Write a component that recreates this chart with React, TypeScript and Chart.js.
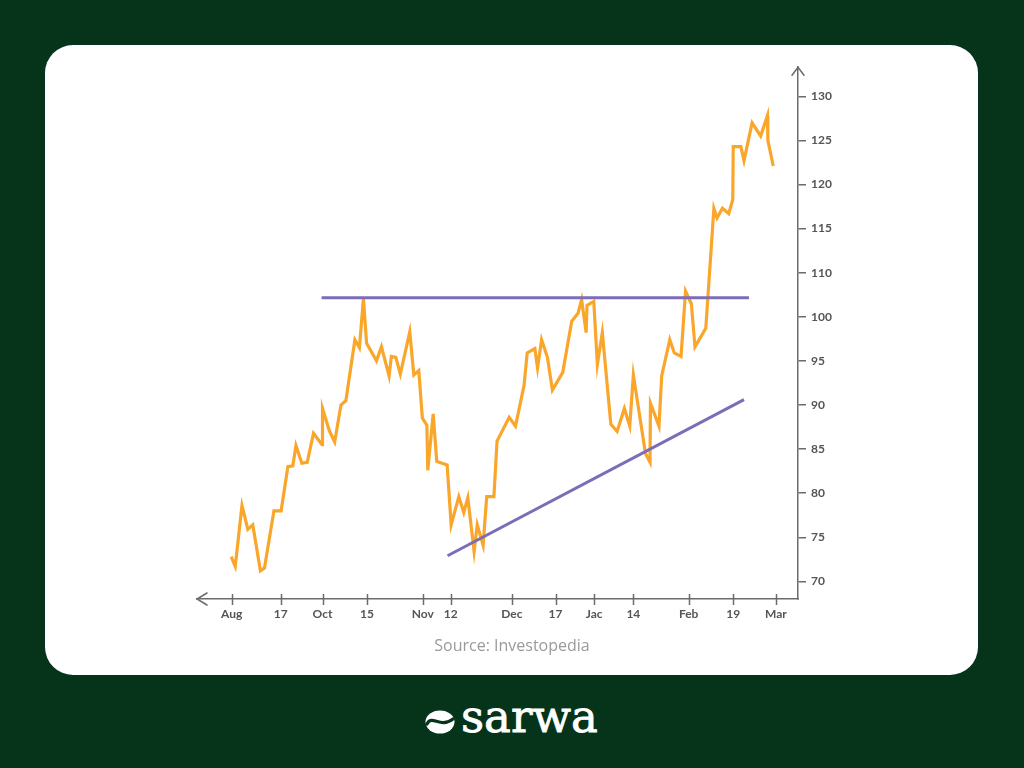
import React, { useEffect, useRef } from "react";
import { Chart, registerables } from "chart.js";

Chart.register(...registerables);

// ---- Data ----
// x: session index along the time axis; tick positions for the date labels
const xTickValues = [0, 10.9, 20.2, 30.1, 42.5, 48.7, 62.3, 72.0, 80.6, 89.3, 101.6, 111.5, 121.0];
const xTickLabels = ["Aug", "17", "Oct", "15", "Nov", "12", "Dec", "17", "Jac", "14", "Feb", "19", "Mar"];

// y tick labels as printed on the chart (note: 105 is not printed, 110 follows 100)
const yTickLabels = [70, 75, 80, 85, 90, 95, 100, 110, 115, 120, 125, 130];

// price line (values read against the printed y labels)
const priceX = [
  -0.1, 0.8, 2.3, 3.6, 4.7, 6.4, 7.3, 9.4, 11.0, 12.5, 13.6, 14.3, 15.6, 16.8, 18.2, 20.1, 20.2, 21.7, 22.9, 24.3,
  25.4, 27.4, 28.4, 29.3, 30.0, 32.2, 33.3, 35.0, 35.5, 36.5, 37.5, 39.6, 40.5, 41.6, 42.4, 43.4, 43.6, 44.8, 45.6,
  47.9, 48.8, 50.5, 51.6, 52.5, 53.9, 54.6, 55.9, 56.7, 58.3, 59.0, 61.7, 63.1, 65.0, 65.7, 67.4, 68.0, 68.9, 70.2,
  71.3, 73.6, 75.6, 77.0, 77.8, 78.8, 79.0, 80.5, 81.3, 82.4, 84.3, 85.7, 87.3, 88.5, 89.3, 92.0, 93.0, 93.1, 95.0,
  95.6, 97.4, 98.4, 99.9, 100.9, 102.2, 103.0, 105.4, 107.2, 107.9, 109.1, 110.5, 111.4, 111.5, 113.2, 113.9, 115.7,
  117.6, 119.1, 119.2, 120.4,
];
const priceY = [
  72.8, 71.7, 78.6, 75.9, 76.4, 71.2, 71.5, 78.0, 78.0, 83.0, 83.1, 85.4, 83.4, 83.5, 86.8, 85.5, 89.6, 87.1, 85.8, 90.0,
  90.5, 97.4, 96.5, 104.1, 97.0, 95.0, 96.6, 93.3, 95.5, 95.4, 93.5, 98.3, 93.4, 93.9, 88.5, 87.7, 82.6, 89.0, 83.6,
  83.2, 76.4, 79.6, 77.8, 79.5, 73.4, 76.4, 74.1, 79.6, 79.6, 85.9, 88.6, 87.6, 92.2, 95.9, 96.4, 94.2, 97.4, 95.4,
  91.7, 93.7, 99.5, 100.8, 103.9, 98.2, 102.6, 103.5, 94.6, 98.2, 87.8, 87.0, 89.6, 87.6, 93.4, 84.5, 83.5, 90.2, 87.6,
  93.3, 97.4, 95.9, 95.5, 105.8, 102.9, 96.6, 98.7, 117.3, 116.2, 117.3, 116.7, 118.3, 124.3, 124.3, 122.7, 127.0,
  125.5, 127.8, 125.0, 122.1,
];

// resistance (horizontal) and rising support trend lines
const resistanceX = [20.0, 115.0];
const resistanceY = [104.3, 104.3];
const supportX = [48.0, 113.9];
const supportY = [72.9, 90.6];

// ---- Styling ----
const GREEN = "#05341a";
const ORANGE = "#f9a62b";
const PURPLE = "#7b6db6";
const AXIS = "#6b6b6b";
const LABEL = "#555555";

// The printed axis is linear in label steps, with 100 -> 110 occupying one step.
const toAxis = (v: number) => (v <= 100 ? v : v <= 110 ? 100 + (v - 100) / 2 : v - 5);

const pts = (xs: number[], ys: number[]) => xs.map((x, i) => ({ x, y: toAxis(ys[i]) }));

const axisDecor = {
  id: "axisDecor",
  afterDraw(chart: any) {
    const { ctx, chartArea } = chart;
    const { left, right, top, bottom } = chartArea;
    const xs = chart.scales.x;
    ctx.save();
    ctx.strokeStyle = AXIS;
    ctx.lineWidth = 1.5;
    ctx.lineCap = "round";
    // y arrow
    ctx.beginPath();
    ctx.moveTo(right - 6, top + 8);
    ctx.lineTo(right, top);
    ctx.lineTo(right + 6, top + 8);
    ctx.stroke();
    // x arrow
    ctx.beginPath();
    ctx.moveTo(left + 10, bottom - 6);
    ctx.lineTo(left, bottom);
    ctx.lineTo(left + 10, bottom + 6);
    ctx.stroke();
    // x ticks crossing the axis
    ctx.lineCap = "butt";
    xs.ticks.forEach((t: any) => {
      const px = Math.round(xs.getPixelForValue(t.value)) + 0.5;
      ctx.beginPath();
      ctx.moveTo(px, bottom - 5);
      ctx.lineTo(px, bottom + 6);
      ctx.stroke();
    });
    ctx.restore();
  },
};

function ChartCanvas() {
  const ref = useRef<HTMLCanvasElement | null>(null);
  useEffect(() => {
    if (!ref.current) return;
    const tickFont = { family: "Lato, 'Open Sans', sans-serif", size: 12, weight: "bold" as const };
    const chart = new Chart(ref.current, {
      type: "line",
      data: {
        datasets: [
          {
            data: pts(resistanceX, resistanceY),
            borderColor: PURPLE,
            borderWidth: 3,
            pointRadius: 0,
            tension: 0,
          },
          {
            data: pts(supportX, supportY),
            borderColor: PURPLE,
            borderWidth: 3,
            pointRadius: 0,
            tension: 0,
          },
          {
            data: pts(priceX, priceY),
            borderColor: ORANGE,
            borderWidth: 3.2,
            pointRadius: 0,
            tension: 0,
            borderJoinStyle: "miter",
          },
        ],
      },
      options: {
        animation: false,
        responsive: false,
        devicePixelRatio: 1,
        layout: { padding: { left: 47, top: 11, right: 0, bottom: 0 } },
        plugins: { legend: { display: false }, tooltip: { enabled: false } },
        scales: {
          x: {
            type: "linear",
            min: -7.7,
            max: 125.9,
            afterBuildTicks: (s: any) => {
              s.ticks = xTickValues.map((v) => ({ value: v }));
            },
            afterFit: (s: any) => {
              s.height = 36;
            },
            ticks: {
              autoSkip: false,
              maxRotation: 0,
              padding: 8,
              color: LABEL,
              font: tickFont,
              callback: (_v: any, i: number) => xTickLabels[i],
            },
            grid: { display: true, drawOnChartArea: false, drawTicks: false, color: AXIS },
            border: { display: true, color: AXIS, width: 1.5 },
          },
          y: {
            type: "linear",
            position: "right",
            min: 68.0,
            max: 128.3,
            afterBuildTicks: (s: any) => {
              s.ticks = yTickLabels.map((v) => ({ value: toAxis(v) }));
            },
            afterFit: (s: any) => {
              s.width = 52;
            },
            ticks: {
              padding: 5,
              color: LABEL,
              font: tickFont,
              callback: (_v: any, i: number) => String(yTickLabels[i]),
            },
            grid: {
              display: true,
              drawOnChartArea: false,
              drawTicks: true,
              tickLength: 8,
              color: AXIS,
              lineWidth: 1.5,
            },
            border: { display: true, color: AXIS, width: 1.5 },
          },
        },
      },
      plugins: [axisDecor],
    });
    return () => chart.destroy();
  }, []);
  return (
    <canvas
      ref={ref}
      width={700}
      height={580}
      style={{ position: "absolute", left: 150, top: 55, width: 700, height: 580 }}
    />
  );
}

export default function App() {
  return (
    <div
      style={{
        position: "fixed",
        left: 0,
        top: 0,
        width: 1024,
        height: 768,
        background: GREEN,
        overflow: "hidden",
      }}
    >
      <div
        style={{
          position: "absolute",
          left: 45,
          top: 45,
          width: 933,
          height: 630,
          background: "#ffffff",
          borderRadius: 28,
        }}
      />
      <ChartCanvas />
      <div
        style={{
          position: "absolute",
          left: 0,
          width: 1024,
          top: 634,
          lineHeight: "22px",
          fontSize: 16,
          fontFamily: "'Open Sans', sans-serif",
          color: "#9a9a9a",
          textAlign: "center",
        }}
      >
        Source: Investopedia
      </div>
      <svg
        width={32}
        height={26}
        viewBox="0 0 32 26"
        style={{ position: "absolute", left: 424, top: 709 }}
      >
        <ellipse cx={16} cy={13} rx={14.5} ry={11.5} fill="#ffffff" />
        <path d="M3 15 C 8 5, 16 20, 29 10" stroke={GREEN} strokeWidth={3.2} fill="none" strokeLinecap="round" />
      </svg>
      <div
        style={{
          position: "absolute",
          left: 461,
          top: 694,
          fontFamily: "'DejaVu Serif', serif",
          fontSize: 45,
          lineHeight: "45px",
          fontWeight: 600,
          color: "#ffffff",
        }}
      >
        <span style={{ fontWeight: "normal", WebkitTextStroke: "0.8px #ffffff" }}>sarwa</span>
      </div>
    </div>
  );
}
